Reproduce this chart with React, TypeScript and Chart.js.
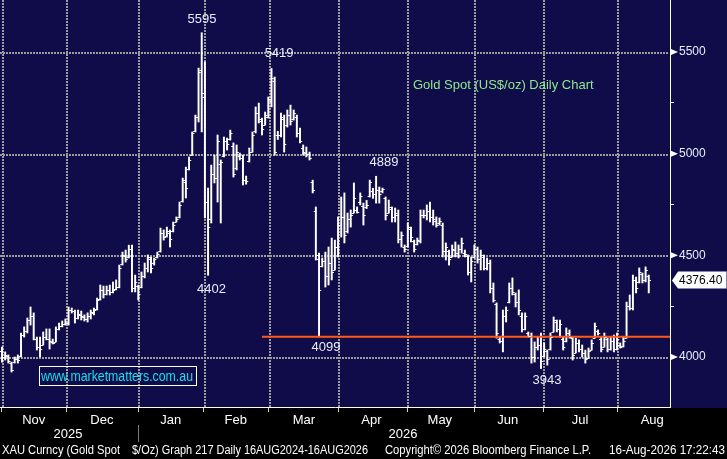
import { useEffect, useRef } from "react"
import { Chart, registerables, type Plugin } from "chart.js"

Chart.register(...registerables)

// daily bars, index 0 = 3 Nov 2025
const highs = [
  4049, 4025, 4010, 3975, 4000, 4010, 4118, 4148, 4192, 4246,
  4217, 4098, 4098, 4123, 4138, 4138, 4088, 4148, 4167, 4177,
  4187, 4246, 4241, 4231, 4231, 4226, 4207, 4217, 4231, 4241,
  4290, 4354, 4349, 4349, 4354, 4369, 4379, 4452, 4516, 4526,
  4550, 4550, 4403, 4354, 4418, 4462, 4502, 4492, 4487, 4516,
  4634, 4625, 4639, 4625, 4664, 4689, 4762, 4880, 4934, 4984,
  5107, 5190, 5421, 5595, 5451, 4831, 4944, 4993, 5092, 4969,
  5082, 5077, 5116, 5053, 5043, 5003, 4993, 4890, 5028, 5107,
  5230, 5249, 5175, 5205, 5279, 5419, 5377, 5110, 5200, 5190,
  5215, 5239, 5215, 5190, 5126, 5043, 5033, 5008, 4870, 4738,
  4511, 4487, 4516, 4541, 4585, 4575, 4689, 4787, 4807, 4708,
  4723, 4856, 4738, 4807, 4757, 4770, 4870, 4830, 4889, 4836,
  4831, 4787, 4772, 4738, 4733, 4723, 4615, 4551, 4659, 4639,
  4575, 4585, 4723, 4723, 4748, 4762, 4723, 4689, 4684, 4659,
  4561, 4526, 4551, 4566, 4551, 4585, 4526, 4502, 4492, 4551,
  4541, 4526, 4502, 4487, 4477, 4364, 4266, 4098, 4231, 4246,
  4364, 4389, 4315, 4330, 4217, 4217, 4123, 4118, 4074, 4098,
  4118, 4069, 4034, 4118, 4197, 4182, 4182, 4098, 4143, 4133,
  4098, 4093, 4084, 4059, 4034, 4044, 4084, 4167, 4133, 4098,
  4118, 4093, 4098, 4108, 4118, 4069, 4098, 4270, 4305, 4403,
  4393, 4438, 4413, 4443, 4403,
]

const lows = [
  3975, 3985, 3970, 3926, 3970, 3970, 4000, 4098, 4118, 4157,
  4084, 4034, 4000, 4059, 4084, 4039, 4064, 4074, 4133, 4148,
  4157, 4157, 4216, 4167, 4187, 4182, 4177, 4172, 4187, 4207,
  4231, 4280, 4290, 4305, 4305, 4315, 4330, 4340, 4452, 4467,
  4487, 4320, 4320, 4280, 4340, 4389, 4418, 4413, 4452, 4487,
  4516, 4575, 4590, 4541, 4615, 4664, 4684, 4762, 4782, 4920,
  4993, 5107, 5156, 5107, 4684, 4402, 4659, 4856, 4762, 4659,
  4984, 5018, 5067, 4885, 4920, 4969, 4846, 4850, 4959, 5008,
  5102, 5151, 5092, 5141, 5175, 5230, 4993, 5070, 5082, 5008,
  5131, 5141, 5165, 5082, 5053, 4993, 4984, 4969, 4807, 4477,
  4099, 4443, 4344, 4354, 4379, 4428, 4492, 4590, 4561, 4610,
  4639, 4708, 4708, 4748, 4649, 4730, 4787, 4780, 4757, 4757,
  4807, 4674, 4708, 4664, 4664, 4561, 4541, 4516, 4541, 4566,
  4516, 4551, 4561, 4684, 4674, 4664, 4649, 4639, 4649, 4492,
  4477, 4452, 4492, 4492, 4487, 4511, 4492, 4403, 4369, 4487,
  4462, 4428, 4428, 4428, 4315, 4270, 4093, 4069, 4025, 4172,
  4266, 4305, 4246, 4207, 4123, 4133, 4098, 3970, 3975, 4034,
  3943, 4000, 3960, 4034, 4123, 4123, 4098, 4034, 4074, 4093,
  3985, 4020, 4025, 4000, 3970, 3995, 4034, 4093, 4108, 4025,
  4049, 4025, 4034, 4025, 4034, 4044, 4049, 4093, 4231, 4231,
  4315, 4364, 4364, 4369, 4315,
]

const opens = [
  4030, 4000, 4005, 3970, 3975, 3990, 4005, 4110, 4130, 4180,
  4200, 4090, 4050, 4060, 4100, 4090, 4075, 4075, 4140, 4150,
  4160, 4165, 4230, 4225, 4190, 4205, 4195, 4185, 4200, 4215,
  4235, 4285, 4330, 4310, 4330, 4320, 4335, 4345, 4455, 4495,
  4490, 4530, 4340, 4350, 4345, 4400, 4440, 4480, 4460, 4490,
  4520, 4610, 4595, 4610, 4620, 4665, 4690, 4765, 4860, 4925,
  4995, 5110, 5180, 5410, 5280, 4760, 4680, 4900, 4880, 4950,
  4990, 5060, 5070, 5040, 4930, 4990, 4980, 4870, 4965, 5010,
  5110, 5200, 5160, 5140, 5180, 5260, 5360, 5090, 5090, 5170,
  5140, 5190, 5170, 5180, 5100, 5030, 5005, 5000, 4860, 4720,
  4480, 4450, 4470, 4400, 4460, 4430, 4540, 4650, 4690, 4620,
  4680, 4710, 4725, 4760, 4745, 4740, 4790, 4815, 4800, 4820,
  4815, 4780, 4710, 4730, 4690, 4700, 4580, 4540, 4545, 4630,
  4570, 4555, 4570, 4700, 4700, 4720, 4690, 4670, 4660, 4650,
  4520, 4520, 4490, 4525, 4510, 4530, 4510, 4495, 4420, 4490,
  4530, 4480, 4490, 4440, 4460, 4340, 4260, 4090, 4080, 4200,
  4270, 4340, 4310, 4270, 4200, 4140, 4120, 4105, 4000, 4050,
  4060, 4005, 4030, 4040, 4125, 4170, 4140, 4090, 4080, 4120,
  4095, 4020, 4070, 4040, 4020, 3995, 4035, 4095, 4130, 4090,
  4050, 4090, 4040, 4080, 4040, 4060, 4055, 4095, 4250, 4240,
  4380, 4370, 4410, 4380, 4400,
]

const closes = [
  4000, 4010, 3980, 3935, 3990, 3985, 4110, 4130, 4180, 4200,
  4090, 4050, 4040, 4100, 4090, 4080, 4070, 4140, 4150, 4160,
  4165, 4230, 4225, 4190, 4210, 4200, 4185, 4200, 4220, 4230,
  4280, 4330, 4310, 4330, 4320, 4330, 4345, 4440, 4500, 4480,
  4530, 4340, 4370, 4310, 4400, 4440, 4490, 4440, 4480, 4505,
  4610, 4590, 4620, 4580, 4650, 4680, 4750, 4870, 4830, 4970,
  5100, 5180, 5400, 5300, 4760, 4640, 4900, 4880, 5060, 4960,
  5060, 5050, 5100, 4900, 5010, 4980, 4870, 4865, 5010, 5090,
  5200, 5170, 5120, 5190, 5270, 5370, 5010, 5090, 5180, 5050,
  5190, 5160, 5200, 5100, 5060, 5010, 5000, 4980, 4820, 4500,
  4330, 4470, 4400, 4460, 4420, 4540, 4650, 4690, 4600, 4680,
  4700, 4780, 4715, 4790, 4700, 4750, 4860, 4800, 4820, 4800,
  4825, 4700, 4740, 4690, 4710, 4580, 4600, 4530, 4640, 4590,
  4530, 4575, 4700, 4700, 4720, 4690, 4680, 4650, 4670, 4520,
  4540, 4480, 4530, 4510, 4530, 4560, 4505, 4420, 4470, 4530,
  4480, 4500, 4440, 4460, 4340, 4280, 4120, 4080, 4200, 4230,
  4340, 4320, 4270, 4230, 4140, 4200, 4105, 4000, 4050, 4060,
  3980, 4040, 3990, 4100, 4180, 4140, 4160, 4050, 4120, 4100,
  4010, 4070, 4040, 4020, 3990, 4030, 4070, 4150, 4120, 4040,
  4100, 4040, 4080, 4040, 4090, 4050, 4080, 4250, 4240, 4380,
  4340, 4420, 4380, 4430, 4376.4,
]

// x axis, in bar-index units
const monthNames = ["Nov", "Dec", "Jan", "Feb", "Mar", "Apr", "May", "Jun", "Jul", "Aug"]
const monthStarts = [0, 20.2, 42.9, 63.7, 84.2, 106, 127.8, 148.9, 170.7, 194]
const monthLabelAt = [10, 31.5, 53.2, 73.7, 95.2, 116.5, 138.1, 159.5, 182.3, 205.1]
const yearNames = ["2025", "2026"]
const yearLabelAt = [20.8, 126.5]

const priceTicks = [4000, 4250, 4500, 4750, 5000, 5250, 5500]
const priceLines = [4000, 4500, 5000, 5500]

const supportLevel = 4100
const supportFrom = 82

const peakLabels = ["5595", "5419", "4889", "4402", "4099", "3943"]
const peakLabelAt = [63.1, 87.4, 120.5, 66.1, 102.2, 171.9]
const peakLabelValue = [5595, 5419, 4889, 4402, 4099, 3943]
const peakLabelShift = [-13, -15, -14, 14, 11, 12]

const NAVY = "#0f0c49"
const GRID = "#9c9c9c"
const LABEL = "#e6edfb"
const NARROW = '"Liberation Sans Narrow", "Liberation Sans", Arial, sans-serif'
const SANS = '"Liberation Sans", Arial, sans-serif'

function fitText(ctx: CanvasRenderingContext2D, text: string, x: number, y: number, w: number) {
  const m = ctx.measureText(text).width
  ctx.save()
  ctx.translate(x, y)
  ctx.scale(w / m, 1)
  ctx.fillText(text, 0, 0)
  ctx.restore()
}

const bloomberg: Plugin<"bar"> = {
  id: "bloomberg",
  beforeDraw(chart) {
    const { ctx, width, height, chartArea } = chart
    ctx.save()
    ctx.fillStyle = "#000"
    ctx.fillRect(0, 0, width, height)
    ctx.fillStyle = NAVY
    ctx.fillRect(0, 0, width, chartArea.bottom + 1)
    ctx.restore()
  },
  beforeDatasetsDraw(chart) {
    // dotted grid as small squares, snapped to whole pixels
    const { ctx, chartArea } = chart
    const xs = chart.scales.x
    const ys = chart.scales.y
    ctx.save()
    ctx.fillStyle = GRID
    for (const m of monthStarts) {
      const px = Math.round(xs.getPixelForValue(m))
      for (let y = Math.ceil(chartArea.top); y < chartArea.bottom; y += 3) {
        ctx.fillRect(px, y, 2, 2)
      }
    }
    for (const v of priceLines) {
      const py = Math.round(ys.getPixelForValue(v))
      for (let x = Math.ceil(chartArea.left); x < chartArea.right - 1; x += 3) {
        ctx.fillRect(x, py, 2, 2)
      }
    }
    ctx.restore()
  },
  afterDatasetsDraw(chart) {
    const { ctx } = chart
    const xs = chart.scales.x
    const ys = chart.scales.y
    ctx.save()
    ctx.strokeStyle = "#ffffff"
    ctx.lineWidth = 1
    ctx.beginPath()
    for (let i = 0; i < closes.length; i++) {
      const px = xs.getPixelForValue(i)
      const po = Math.round(ys.getPixelForValue(opens[i])) + 0.5
      const pc = Math.round(ys.getPixelForValue(closes[i])) + 0.5
      ctx.moveTo(px - 2.2, po)
      ctx.lineTo(px, po)
      ctx.moveTo(px, pc)
      ctx.lineTo(px + 2.2, pc)
    }
    ctx.stroke()
    ctx.restore()
  },
  afterDraw(chart) {
    const { ctx, chartArea } = chart
    const xs = chart.scales.x
    const ys = chart.scales.y
    ctx.save()

    // arrows on the major price ticks
    ctx.fillStyle = "#ffffff"
    for (const v of priceLines) {
      const py = ys.getPixelForValue(v)
      ctx.beginPath()
      ctx.moveTo(chartArea.right + 1, py - 3)
      ctx.lineTo(chartArea.right + 8, py)
      ctx.lineTo(chartArea.right + 1, py + 3)
      ctx.closePath()
      ctx.fill()
    }

    // last price tag
    const last = closes[closes.length - 1]
    const ly = Math.round(ys.getPixelForValue(last))
    const r = chartArea.right
    ctx.beginPath()
    ctx.moveTo(r + 2, ly + 0.5)
    ctx.lineTo(r + 8, ly - 8.5)
    ctx.lineTo(726.5, ly - 8.5)
    ctx.lineTo(726.5, ly + 8.5)
    ctx.lineTo(r + 8, ly + 8.5)
    ctx.closePath()
    ctx.fillStyle = "#ffffff"
    ctx.fill()
    ctx.fillStyle = "#000000"
    ctx.font = `12px ${SANS}`
    ctx.textBaseline = "middle"
    ctx.textAlign = "left"
    ctx.fillText(last.toFixed(2), r + 9, ly + 1)

    // high / low annotations
    ctx.fillStyle = LABEL
    ctx.font = `13px ${SANS}`
    ctx.textAlign = "center"
    peakLabels.forEach((t, k) => {
      ctx.fillText(t, xs.getPixelForValue(peakLabelAt[k]), ys.getPixelForValue(peakLabelValue[k]) + peakLabelShift[k])
    })

    // title
    ctx.textAlign = "left"
    ctx.fillStyle = "#8fe88f"
    ctx.font = `13px ${SANS}`
    ctx.fillText("Gold Spot (US$/oz) Daily Chart", 413, 85)

    // website box
    ctx.strokeStyle = "#ffffff"
    ctx.lineWidth = 1
    ctx.strokeRect(39.5, 366.5, 157, 19)
    ctx.fillStyle = "#19dfee"
    ctx.font = `14px ${SANS}`
    fitText(ctx, "www.marketmatters.com.au", 41, 377, 152)

    // year row
    ctx.fillStyle = "#ffffff"
    ctx.font = `13px ${NARROW}`
    ctx.textAlign = "center"
    yearNames.forEach((t, k) => ctx.fillText(t, xs.getPixelForValue(yearLabelAt[k]), 434))
    ctx.strokeStyle = "#7a7a7a"
    ctx.beginPath()
    const sx = Math.round(xs.getPixelForValue(monthStarts[2])) + 0.5
    ctx.moveTo(sx, 425)
    ctx.lineTo(sx, 442)
    ctx.stroke()

    // footer
    ctx.textAlign = "left"
    ctx.font = `12px ${NARROW}`
    fitText(ctx, "XAU Curncy (Gold Spot", 2, 451, 118)
    fitText(ctx, "$/Oz) Graph 217 Daily 16AUG2024-16AUG2026", 132, 451, 236)
    fitText(ctx, "Copyright\u00a9 2026 Bloomberg Finance L.P.", 385, 451, 206)
    fitText(ctx, "16-Aug-2026 17:22:43", 609, 451, 116)

    ctx.restore()
  },
}

export default function App() {
  const canvasRef = useRef<HTMLCanvasElement>(null)
  const chartRef = useRef<Chart | null>(null)

  useEffect(() => {
    if (!canvasRef.current) return
    if (chartRef.current) chartRef.current.destroy()

    const ctx = canvasRef.current.getContext("2d")
    if (!ctx) return

    chartRef.current = new Chart(ctx, {
      type: "bar",
      data: {
        datasets: [
          {
            type: "line",
            data: [
              { x: supportFrom, y: supportLevel },
              { x: 210.7, y: supportLevel },
            ],
            borderColor: "#ff5a14",
            borderWidth: 2,
            pointRadius: 0,
            order: 1,
          },
          {
            type: "bar",
            data: highs.map((h, i) => ({ x: i, y: [lows[i], h] })),
            backgroundColor: "#ffffff",
            borderWidth: 0,
            barThickness: 1.3,
            grouped: false,
            order: 2,
          },
        ] as any,
      },
      options: {
        animation: false,
        responsive: true,
        maintainAspectRatio: false,
        layout: { padding: 0 },
        plugins: {
          legend: { display: false },
          tooltip: { enabled: false },
        },
        scales: {
          x: {
            type: "linear",
            min: -0.63,
            max: 210.7,
            offset: false,
            afterBuildTicks: (s: any) => {
              s.ticks = [...monthStarts, ...monthLabelAt].sort((a, b) => a - b).map((v) => ({ value: v }))
            },
            afterFit: (s: any) => {
              s.height = 52
              s.paddingLeft = 0
              s.paddingRight = 0
            },
            ticks: {
              autoSkip: false,
              maxRotation: 0,
              minRotation: 0,
              padding: 1,
              color: "#ffffff",
              font: { family: NARROW, size: 13 },
              callback: (v: any) => {
                const k = monthLabelAt.indexOf(Number(v))
                return k >= 0 ? monthNames[k] : ""
              },
            },
            grid: {
              offset: false,
              drawOnChartArea: false,
              tickColor: (c: any) => (c.tick && monthStarts.includes(c.tick.value) ? "#d0d0d0" : "rgba(0,0,0,0)"),
              tickLength: 5,
              tickWidth: 1,
            },
            border: { display: true, color: "#ffffff", width: 1 },
          },
          y: {
            type: "linear",
            position: "right",
            min: 3754,
            max: 5756,
            afterBuildTicks: (s: any) => {
              s.ticks = priceTicks.map((v) => ({ value: v }))
            },
            afterFit: (s: any) => {
              s.width = 57
              s.paddingTop = 0
              s.paddingBottom = 0
            },
            ticks: {
              padding: 5,
              color: LABEL,
              font: { family: SANS, size: 12 },
              callback: (v: any) => (priceLines.includes(Number(v)) ? String(v) : ""),
            },
            grid: {
              drawOnChartArea: false,
              tickColor: "#ffffff",
              tickLength: 4,
              tickWidth: 1,
            },
            border: { display: true, color: "#ffffff", width: 1 },
          },
        },
      },
      plugins: [bloomberg],
    })

    return () => {
      if (chartRef.current) {
        chartRef.current.destroy()
        chartRef.current = null
      }
    }
  }, [])

  return (
    <div style={{ position: "fixed", left: 0, top: 0, width: 727, height: 459 }}>
      <canvas ref={canvasRef} />
    </div>
  )
}
